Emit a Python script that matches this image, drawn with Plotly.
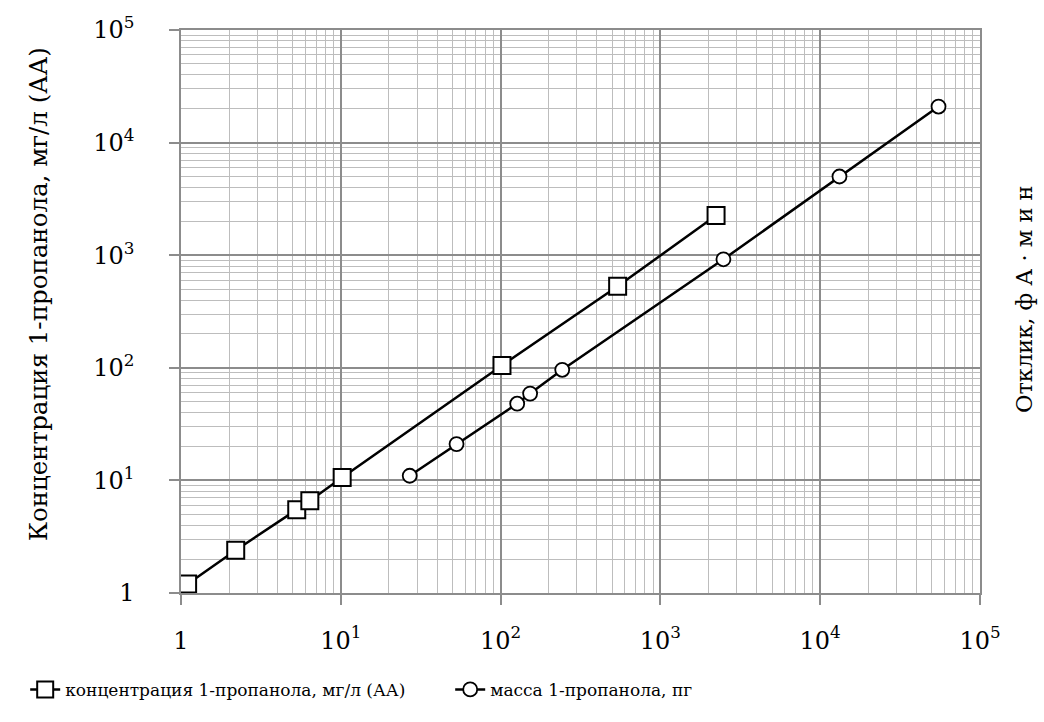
import plotly.graph_objects as go

# Concentration series (squares)
conc_x = [1.1, 2.2, 5.3, 6.4, 10.2, 102, 540, 2230]
conc_y = [1.2, 2.4, 5.5, 6.6, 10.6, 105, 530, 2250]

# Mass series (circles)
mass_x = [27, 53, 127, 153, 243, 2480, 13200, 55000]
mass_y = [11, 21, 48, 59, 96, 920, 5000, 20900]

tick_vals = [1, 10, 100, 1000, 10000, 100000]
tick_text = ["1", "10<sup>1</sup>", "10<sup>2</sup>", "10<sup>3</sup>",
             "10<sup>4</sup>", "10<sup>5</sup>"]

# log minor grid: 2..9 inside each decade
minor_vals = [m * 10 ** d for d in range(5) for m in range(2, 10)]

SERIF = "DejaVu Serif"
MAJOR = "#8c8c8c"
MINOR = "#bdbdbd"

fig = go.Figure()
fig.add_trace(go.Scatter(
    x=conc_x, y=conc_y, mode="lines+markers",
    name="концентрация 1-пропанола, мг/л (АА)",
    line=dict(color="black", width=2.5),
    marker=dict(symbol="square", size=17, color="white",
                line=dict(color="black", width=2)),
))
fig.add_trace(go.Scatter(
    x=mass_x, y=mass_y, mode="lines+markers",
    name="масса 1-пропанола, пг",
    line=dict(color="black", width=2.5),
    marker=dict(symbol="circle", size=14, color="white",
                line=dict(color="black", width=1.8)),
))

axis_common = dict(
    type="log",
    tickmode="array",
    tickvals=tick_vals,
    ticktext=tick_text,
    showgrid=True, gridcolor=MAJOR, gridwidth=1.5,
    showline=True, linecolor=MAJOR, linewidth=1.5, mirror=True,
    ticks="outside", ticklen=10, tickcolor=MAJOR, tickwidth=1.5,
    zeroline=False,
    tickfont=dict(family=SERIF, size=24, color="black"),
    minor=dict(tickvals=minor_vals, showgrid=True, gridcolor=MINOR,
               gridwidth=1.3, ticks=""),
)

fig.update_xaxes(range=[0, 5], ticklabelstandoff=15, **axis_common)
fig.update_yaxes(range=[0, 5], ticklabelstandoff=30, **axis_common)

# axis titles (left: primary scale, right: detector response)
fig.add_annotation(
    text="Концентрация 1-пропанола, мг/л (АА)", textangle=-90,
    xref="paper", yref="paper", x=-0.179, y=0.531,
    xanchor="center", yanchor="middle", showarrow=False,
    font=dict(family=SERIF, size=24.5, color="black"),
)
fig.add_annotation(
    text="Отклик, ф А · м и н", textangle=-90,
    xref="paper", yref="paper", x=1.055, y=0.522,
    xanchor="center", yanchor="middle", showarrow=False,
    font=dict(family=SERIF, size=22.5, color="black"),
)

fig.update_layout(
    width=1044, height=722,
    margin=dict(l=181, r=64, t=30, b=129),
    paper_bgcolor="white", plot_bgcolor="white",
    showlegend=True,
    legend=dict(orientation="h", x=-0.195, y=-0.172,
                xanchor="left", yanchor="middle",
                font=dict(family=SERIF, size=17, color="black"),
                itemwidth=30, entrywidth=380, bgcolor="rgba(0,0,0,0)"),
)

fig.write_html("out.html")
